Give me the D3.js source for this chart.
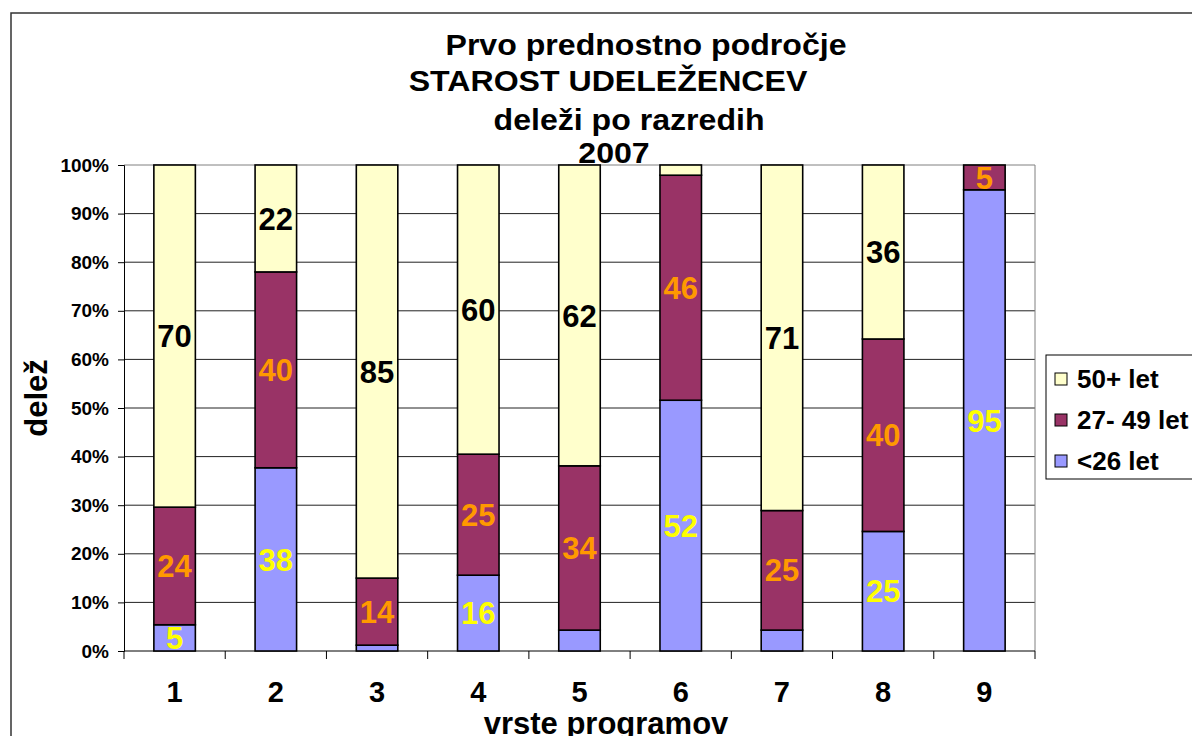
<!DOCTYPE html>
<html lang="sl">
<head>
  <meta charset="UTF-8">
  <title>Starost udeležencev 2007</title>
  <script src="https://cdn.jsdelivr.net/npm/d3@7"></script>
  <style>
    * { margin: 0; padding: 0; box-sizing: border-box; }
    body { width: 1192px; height: 736px; background: #fff; overflow: hidden; }
    text { font-family: "Liberation Sans", Arial, sans-serif; font-weight: bold; }
  </style>
</head>
<body>
  <div id="chart"></div>

  <script>
    // Data (shares in %, per program type)
    const categories = ['1', '2', '3', '4', '5', '6', '7', '8', '9'];
    const under26 = [5.4, 37.7, 1.2, 15.6, 4.3, 51.6, 4.3, 24.6, 94.9];
    const age27to49 = [24.2, 40.3, 13.8, 24.9, 33.8, 46.3, 24.6, 39.6, 5.1];
    const over50 = [70.4, 22.0, 85.0, 59.5, 61.9, 2.1, 71.1, 35.8, 0];
    const seriesNames = ['<26 let', '27- 49 let', '50+ let'];
    const yTicks = [0, 0.1, 0.2, 0.3, 0.4, 0.5, 0.6, 0.7, 0.8, 0.9, 1];
    const titleLines = ['Prvo prednostno področje', 'STAROST UDELEŽENCEV', 'deleži po razredih', '2007'];

    const fills = ['#9999FF', '#993366', '#FFFFCC'];
    const labelColors = ['#FFFF00', '#FF9900', '#000000'];

    const width = 1192, height = 736;
    const plot = { left: 124, right: 1035, top: 165, bottom: 651 };

    const svg = d3.select('#chart').append('svg')
      .attr('width', width)
      .attr('height', height);

    // outer chart frame (runs off the right/bottom edge like the original)
    svg.append('rect')
      .attr('x', 11).attr('y', 13)
      .attr('width', 1300).attr('height', 800)
      .attr('fill', '#fff')
      .attr('stroke', '#333').attr('stroke-width', 1.5);

    const rows = categories.map((c, i) => ({
      cat: c, s0: under26[i], s1: age27to49[i], s2: over50[i]
    }));

    const stack = d3.stack()
      .keys(['s0', 's1', 's2'])
      .offset(d3.stackOffsetExpand);
    const layers = stack(rows);

    const x = d3.scaleBand()
      .domain(categories)
      .range([plot.left, plot.right])
      .padding(0);

    const y = d3.scaleLinear()
      .domain([0, 1])
      .range([plot.bottom, plot.top]);

    const barW = x.bandwidth() * 0.41;

    // gridlines
    svg.append('g')
      .selectAll('line')
      .data(yTicks.slice(1))
      .join('line')
      .attr('x1', plot.left).attr('x2', plot.right)
      .attr('y1', d => y(d)).attr('y2', d => y(d))
      .attr('stroke', (d) => d === 1 ? '#808080' : '#222')
      .attr('stroke-width', 1);

    // right border of plot area
    svg.append('line')
      .attr('x1', plot.right).attr('x2', plot.right)
      .attr('y1', plot.top).attr('y2', plot.bottom)
      .attr('stroke', '#808080');

    // y axis
    const yAxis = d3.axisLeft(y)
      .tickValues(yTicks)
      .tickFormat(d3.format('.0%'))
      .tickSize(6)
      .tickPadding(9);
    const yg = svg.append('g')
      .attr('transform', `translate(${plot.left},0)`)
      .call(yAxis);
    yg.select('.domain').attr('stroke', '#000');
    yg.selectAll('.tick line').attr('stroke', '#000');
    yg.selectAll('.tick text')
      .attr('font-size', 19)
      .attr('fill', '#000')
      .attr('font-family', '"Liberation Sans", Arial, sans-serif');

    // x axis: ticks sit between categories
    const bounds = categories.map(c => x(c)).concat([plot.right]);
    const xg = svg.append('g');
    xg.append('line')
      .attr('x1', plot.left).attr('x2', plot.right)
      .attr('y1', plot.bottom).attr('y2', plot.bottom)
      .attr('stroke', '#000');
    xg.selectAll('line.tk')
      .data(bounds)
      .join('line')
      .attr('class', 'tk')
      .attr('x1', d => d).attr('x2', d => d)
      .attr('y1', plot.bottom).attr('y2', plot.bottom + 8)
      .attr('stroke', '#000');
    xg.selectAll('text')
      .data(categories)
      .join('text')
      .attr('x', d => x(d) + x.bandwidth() / 2)
      .attr('y', 702)
      .attr('text-anchor', 'middle')
      .attr('font-size', 29)
      .text(d => d);

    // bars
    const layerG = svg.append('g')
      .selectAll('g')
      .data(layers)
      .join('g')
      .attr('fill', (d, i) => fills[i]);

    layerG.selectAll('rect')
      .data(d => d)
      .join('rect')
      .attr('x', d => x(d.data.cat) + (x.bandwidth() - barW) / 2)
      .attr('y', d => y(d[1]))
      .attr('width', barW)
      .attr('height', d => y(d[0]) - y(d[1]))
      .attr('stroke', '#000')
      .attr('stroke-width', 1.6)
      .style('display', d => (d[1] - d[0]) > 0 ? null : 'none');

    // value labels
    layerG.selectAll('text')
      .data((d, i) => d.map(p => ({ p, i, v: rows[categories.indexOf(p.data.cat)]['s' + i] })))
      .join('text')
      .filter(d => Math.round(d.v) >= 5)
      .attr('x', d => x(d.p.data.cat) + x.bandwidth() / 2)
      .attr('y', d => (y(d.p[0]) + y(d.p[1])) / 2)
      .attr('dy', '0.36em')
      .attr('text-anchor', 'middle')
      .attr('font-size', 31)
      .attr('fill', d => labelColors[d.i])
      .text(d => Math.round(d.v));

    // title (slightly stretched horizontally, like the original)
    const titleX = [646, 608, 629, 614];
    const titleY = [55, 91, 130, 163];
    svg.append('g')
      .selectAll('text')
      .data(titleLines)
      .join('text')
      .attr('transform', (d, i) => `translate(${titleX[i]},${titleY[i]}) scale(1.07,1)`)
      .attr('text-anchor', 'middle')
      .attr('font-size', 30)
      .text(d => d);

    // axis titles
    svg.append('text')
      .attr('transform', 'translate(47,398) rotate(-90)')
      .attr('text-anchor', 'middle')
      .attr('font-size', 31)
      .text('delež');

    svg.append('text')
      .attr('x', 606).attr('y', 734)
      .attr('text-anchor', 'middle')
      .attr('font-size', 31)
      .text('vrste programov');

    // legend
    const legend = svg.append('g');
    legend.append('rect')
      .attr('x', 1046).attr('y', 355)
      .attr('width', 160).attr('height', 124)
      .attr('fill', '#fff')
      .attr('stroke', '#000');

    const legendOrder = [2, 1, 0];
    const li = legend.selectAll('g.item')
      .data(legendOrder)
      .join('g')
      .attr('class', 'item')
      .attr('transform', (d, k) => `translate(1055,${379 + k * 41})`);
    li.append('rect')
      .attr('x', 0).attr('y', -6)
      .attr('width', 12).attr('height', 12)
      .attr('fill', d => fills[d])
      .attr('stroke', '#000');
    li.append('text')
      .attr('x', 22).attr('y', 0)
      .attr('dy', '0.36em')
      .attr('font-size', 26)
      .text(d => seriesNames[d]);
  </script>
</body>
</html>
